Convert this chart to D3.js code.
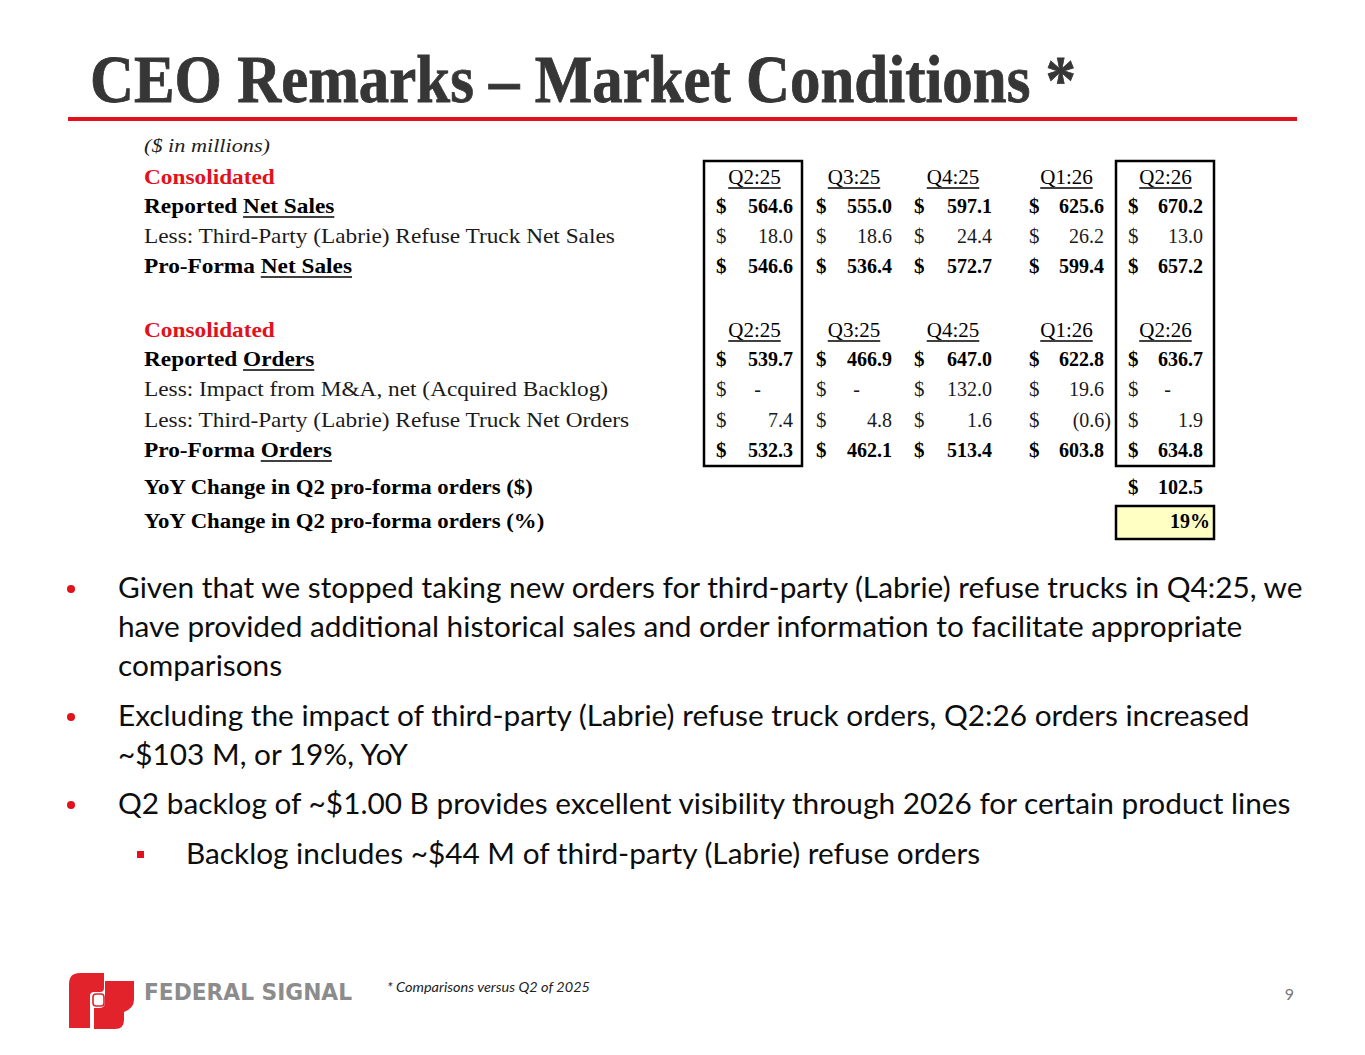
<!DOCTYPE html>
<html>
<head>
<meta charset="utf-8">
<script src="https://cdn.jsdelivr.net/npm/d3@7"></script>
<style>
  html, body { margin: 0; padding: 0; background: #fff; }
  svg { display: block; }
</style>
</head>
<body>
<div id="slide"></div>
<script>
'use strict'

// values in $ millions
const quarters = ['Q2:25', 'Q3:25', 'Q4:25', 'Q1:26', 'Q2:26']
const reportedNetSales = [564.6, 555.0, 597.1, 625.6, 670.2]
const labrieNetSales = [18.0, 18.6, 24.4, 26.2, 13.0]
const proFormaNetSales = [546.6, 536.4, 572.7, 599.4, 657.2]
const reportedOrders = [539.7, 466.9, 647.0, 622.8, 636.7]
const acquiredBacklog = [null, null, 132.0, 19.6, null]
const labrieOrders = [7.4, 4.8, 1.6, -0.6, 1.9]
const proFormaOrders = [532.3, 462.1, 513.4, 603.8, 634.8]
const yoyChangeDollar = 102.5
const yoyChangePct = 0.19

const bullets = [
  { level: 1, lines: ['Given that we stopped taking new orders for third-party (Labrie) refuse trucks in Q4:25, we',
    'have provided additional historical sales and order information to facilitate appropriate',
    'comparisons'] },
  { level: 1, lines: ['Excluding the impact of third-party (Labrie) refuse truck orders, Q2:26 orders increased',
    '~$103 M, or 19%, YoY'] },
  { level: 1, lines: ['Q2 backlog of ~$1.00 B provides excellent visibility through 2026 for certain product lines'] },
  { level: 2, lines: ['Backlog includes ~$44 M of third-party (Labrie) refuse orders'] }
]

const width = 1365
const height = 1055
const red = '#e3111b'
const serif = '"Liberation Serif", "Times New Roman", serif'
const sans = 'Lato, "Open Sans", sans-serif'
const wide = 1.11 // Times is narrower than the slide's Palatino

// widen a text element by k keeping its glyph height
function stretch (sel, k) {
  const w = sel.node().getComputedTextLength()
  sel.attr('textLength', w * k).attr('lengthAdjust', 'spacingAndGlyphs')
  return w * k
}

const svg = d3.select('#slide')
  .append('svg')
  .attr('width', width)
  .attr('height', height)

// title
svg.append('text')
  .attr('x', 90)
  .attr('y', 102)
  .attr('font-family', serif)
  .attr('font-weight', 'bold')
  .attr('font-size', 68)
  .attr('fill', '#363636')
  .attr('stroke', '#363636')
  .attr('stroke-width', 0.8)
  .attr('textLength', 986)
  .attr('lengthAdjust', 'spacingAndGlyphs')
  .text('CEO Remarks \u2013 Market Conditions *')

svg.append('rect')
  .attr('x', 68).attr('y', 117)
  .attr('width', 1229).attr('height', 4)
  .attr('fill', red)

stretch(svg.append('text')
  .attr('x', 144).attr('y', 152)
  .attr('font-family', serif)
  .attr('font-style', 'italic')
  .attr('font-size', 19)
  .attr('fill', '#222')
  .text('($ in millions)'), 1.17)

// table layout
const rows = [
  { key: 'hdr1', label: [['Consolidated', false]], red: true, bold: true, header: true },
  { key: 'rns', label: [['Reported ', false], ['Net Sales', true]], bold: true, values: reportedNetSales },
  { key: 'lns', label: [['Less: Third-Party (Labrie) Refuse Truck Net Sales', false]], values: labrieNetSales },
  { key: 'pns', label: [['Pro-Forma ', false], ['Net Sales', true]], bold: true, values: proFormaNetSales },
  { key: 'hdr2', label: [['Consolidated', false]], red: true, bold: true, header: true },
  { key: 'ro', label: [['Reported ', false], ['Orders', true]], bold: true, values: reportedOrders },
  { key: 'lma', label: [['Less: Impact from M&A, net (Acquired Backlog)', false]], values: acquiredBacklog },
  { key: 'lno', label: [['Less: Third-Party (Labrie) Refuse Truck Net Orders', false]], values: labrieOrders },
  { key: 'po', label: [['Pro-Forma ', false], ['Orders', true]], bold: true, values: proFormaOrders },
  { key: 'yoyD', label: [['YoY Change in Q2 pro-forma orders ($)', false]], bold: true, small: true },
  { key: 'yoyP', label: [['YoY Change in Q2 pro-forma orders (%)', false]], bold: true, small: true }
]

const y = d3.scaleOrdinal()
  .domain(rows.map(r => r.key))
  .range([184, 213, 243, 273, 337, 366, 396, 427, 457, 494, 528])

const dollarX = d3.scaleOrdinal().domain(quarters).range([716, 816, 914, 1029, 1128])
const rightX = d3.scaleOrdinal().domain(quarters).range([793, 892, 992, 1104, 1203])

const fmt = d3.format('.1f')
const fmtVal = v => v === null ? '-' : v < 0 ? '(' + fmt(-v) + ')' : fmt(v)

const table = svg.append('g')

// row labels
rows.forEach(r => {
  const t = table.append('text')
    .attr('x', 144)
    .attr('y', y(r.key))
    .attr('font-family', serif)
    .attr('font-size', r.small ? 20 : 21)
    .attr('font-weight', r.bold ? 'bold' : 'normal')
    .attr('fill', r.red ? red : (r.bold ? '#000' : '#1a1a1a'))
  r.label.forEach(([s]) => t.append('tspan').text(s))
  const natural = t.node().getComputedTextLength()
  const k = (r.small ? 1.14 : wide)
  let pos = 0
  r.label.forEach(([s, under]) => {
    if (under) {
      const node = t.node()
      const x0 = 144 + node.getSubStringLength(0, pos) * k
      const w = node.getSubStringLength(pos, s.length) * k
      table.append('line')
        .attr('x1', x0).attr('x2', x0 + w)
        .attr('y1', y(r.key) + 4).attr('y2', y(r.key) + 4)
        .attr('stroke', '#000').attr('stroke-width', 1.5)
    }
    pos += s.length
  })
  t.attr('textLength', natural * k).attr('lengthAdjust', 'spacingAndGlyphs')
})

// column headers
rows.filter(r => r.header).forEach(r => {
  quarters.forEach(q => {
    const cx = (dollarX(q) + rightX(q)) / 2
    const t = table.append('text')
      .attr('x', cx)
      .attr('y', y(r.key))
      .attr('text-anchor', 'middle')
      .attr('font-family', serif)
      .attr('font-size', 21)
      .attr('fill', '#000')
      .text(q)
    const w = t.node().getComputedTextLength()
    table.append('line')
      .attr('x1', cx - w / 2).attr('x2', cx + w / 2)
      .attr('y1', y(r.key) + 4).attr('y2', y(r.key) + 4)
      .attr('stroke', '#000').attr('stroke-width', 1.5)
  })
})

// values
rows.filter(r => r.values).forEach(r => {
  const cells = table.selectAll(null)
    .data(r.values.map((v, i) => ({ q: quarters[i], v })))
    .enter()
  cells.append('text')
    .attr('x', d => dollarX(d.q))
    .attr('y', y(r.key))
    .attr('font-family', serif)
    .attr('font-size', 21)
    .attr('font-weight', r.bold ? 'bold' : 'normal')
    .attr('fill', r.bold ? '#000' : '#1a1a1a')
    .text('$')
  cells.append('text')
    .attr('x', d => d.v === null ? rightX(d.q) - 32 : d.v < 0 ? rightX(d.q) + 7 : rightX(d.q))
    .attr('y', y(r.key))
    .attr('text-anchor', 'end')
    .attr('font-family', serif)
    .attr('font-size', 20)
    .attr('font-weight', r.bold ? 'bold' : 'normal')
    .attr('fill', r.bold ? '#000' : '#1a1a1a')
    .text(d => fmtVal(d.v))
})

// YoY cells under last column
const last = quarters[quarters.length - 1]
table.append('rect')
  .attr('x', dollarX(last) - 12).attr('y', y('yoyP') - 22)
  .attr('width', 98).attr('height', 33)
  .attr('fill', '#ffffc4')
  .attr('stroke', '#000').attr('stroke-width', 2.5)
table.append('text')
  .attr('x', dollarX(last)).attr('y', y('yoyD'))
  .attr('font-family', serif).attr('font-size', 21).attr('font-weight', 'bold')
  .text('$')
table.append('text')
  .attr('x', rightX(last)).attr('y', y('yoyD'))
  .attr('text-anchor', 'end')
  .attr('font-family', serif).attr('font-size', 20).attr('font-weight', 'bold')
  .text(fmt(yoyChangeDollar))
table.append('text')
  .attr('x', rightX(last) + 7).attr('y', y('yoyP'))
  .attr('text-anchor', 'end')
  .attr('font-family', serif).attr('font-size', 20).attr('font-weight', 'bold')
  .text(d3.format('.0%')(yoyChangePct))

// boxes round first and last quarter
;[quarters[0], last].forEach(q => {
  table.append('rect')
    .attr('x', dollarX(q) - 12).attr('y', 161)
    .attr('width', 98).attr('height', y('po') + 9 - 161)
    .attr('fill', 'none')
    .attr('stroke', '#000').attr('stroke-width', 2.5)
})

// bullets
const body = svg.append('g')
const probe = body.append('text')
  .attr('font-family', sans).attr('font-size', 25)
  .text(bullets[0].lines[0])
const fontSize = 25 * 1185 / probe.node().getComputedTextLength()
probe.remove()

const bulletTops = [598, 726, 814, 864]
bullets.forEach((b, i) => {
  const x = b.level === 1 ? 118 : 186
  b.lines.forEach((line, j) => {
    body.append('text')
      .attr('x', x)
      .attr('y', bulletTops[i] + j * 39)
      .attr('font-family', sans)
      .attr('font-size', fontSize)
      .attr('fill', '#0d0d0d')
      .text(line)
  })
  if (b.level === 1) {
    body.append('circle')
      .attr('cx', 71).attr('cy', bulletTops[i] - 9).attr('r', 4)
      .attr('fill', red)
  } else {
    body.append('rect')
      .attr('x', 137).attr('y', bulletTops[i] - 13)
      .attr('width', 7).attr('height', 7)
      .attr('fill', red)
  }
})

// footer
svg.append('text')
  .attr('x', 387).attr('y', 992)
  .attr('font-family', sans)
  .attr('font-style', 'italic')
  .attr('font-size', 14)
  .attr('fill', '#222')
  .attr('textLength', 203)
  .attr('lengthAdjust', 'spacingAndGlyphs')
  .text('* Comparisons versus Q2 of 2025')

svg.append('text')
  .attr('x', 1294).attr('y', 1000)
  .attr('text-anchor', 'end')
  .attr('font-family', sans)
  .attr('font-size', 16)
  .attr('fill', '#777')
  .text('9')

// logo
const logo = svg.append('g').attr('fill', '#e2232b')
logo.append('path')
  .attr('d', 'M69,1028 V984 Q69,973 80,973 H104 V988 Q104,992 100,992 H94 Q90,992 90,996 V1028 Z')
logo.append('path')
  .attr('d', 'M105,981 H134 V1000 Q134,1008 124,1012 V1020 Q124,1029 115,1029 H94 V1008 H99 Q105,1008 105,1002 Z')
logo.append('rect')
  .attr('x', 93).attr('y', 994).attr('width', 11).attr('height', 12).attr('rx', 3)
  .attr('fill', 'none').attr('stroke', '#e2232b').attr('stroke-width', 1.6)
logo.append('text')
  .attr('x', 144).attr('y', 1000)
  .attr('font-family', '"DejaVu Sans", "Liberation Sans", sans-serif')
  .attr('font-weight', 'bold')
  .attr('font-size', 23)
  .attr('fill', '#8c8c8c')
  .attr('textLength', 208)
  .attr('lengthAdjust', 'spacingAndGlyphs')
  .text('FEDERAL SIGNAL')
</script>
</body>
</html>
